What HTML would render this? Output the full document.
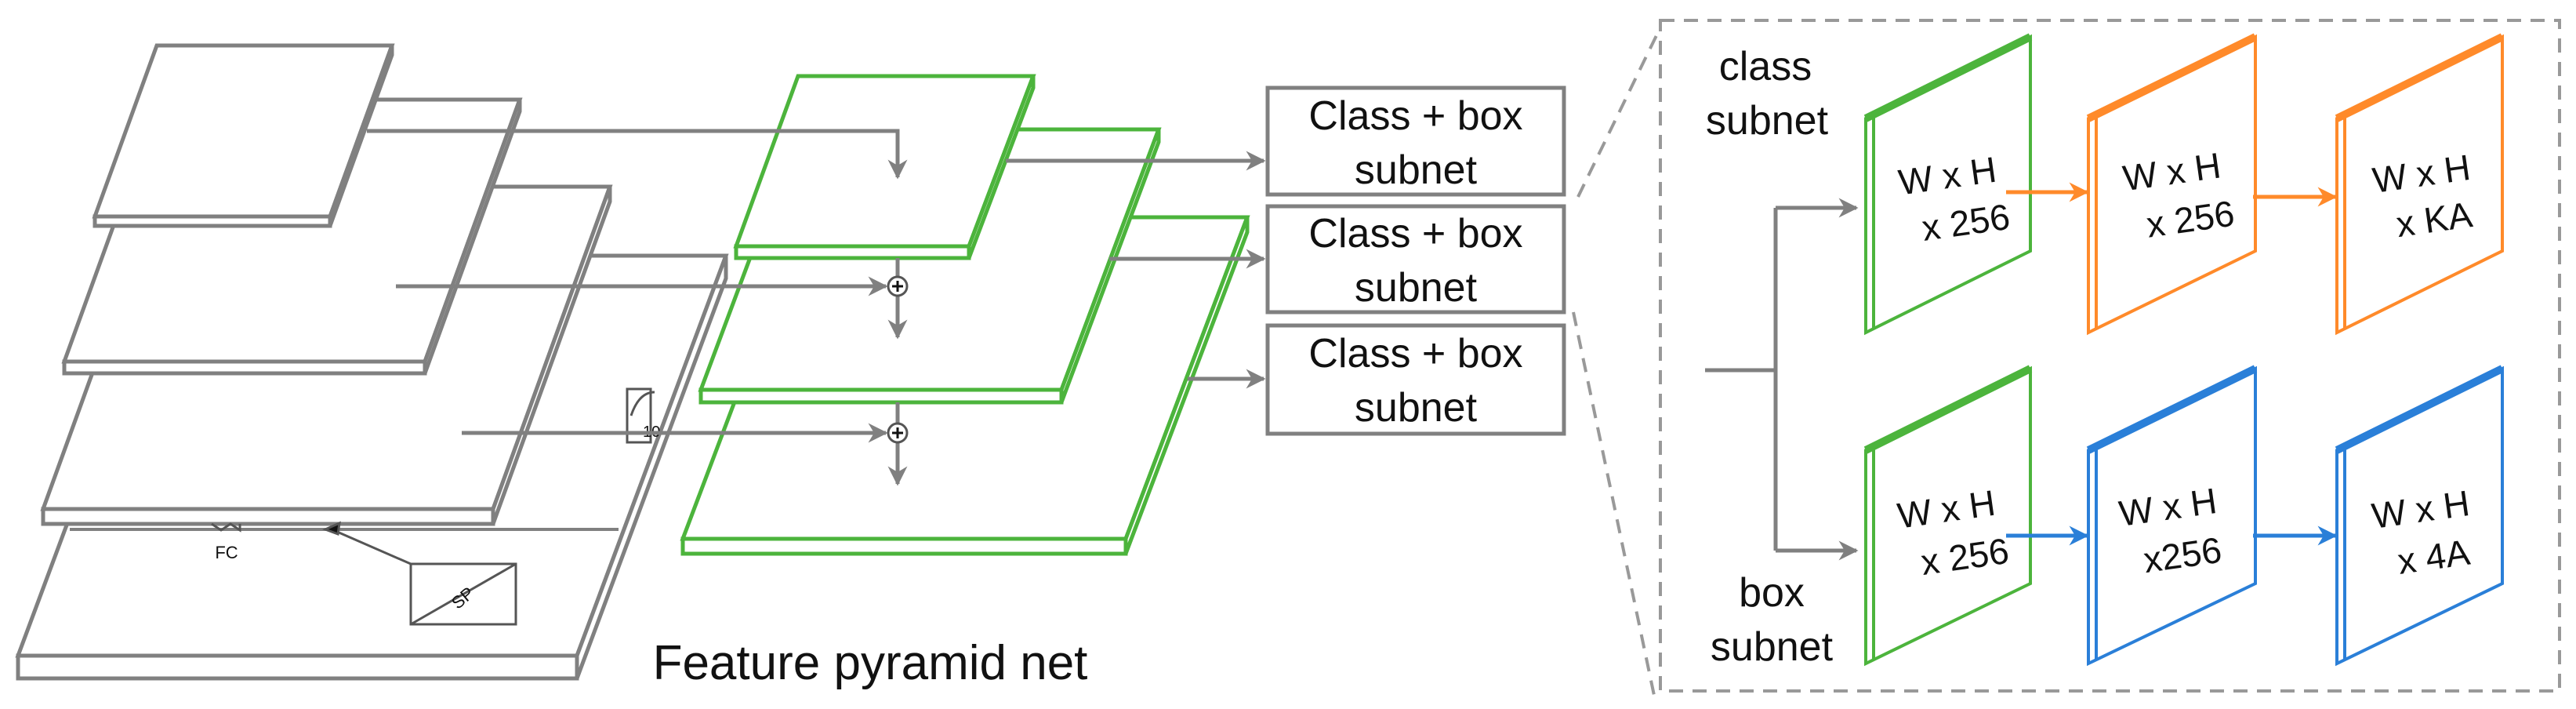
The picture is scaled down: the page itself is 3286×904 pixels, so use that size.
<!DOCTYPE html>
<html><head><meta charset="utf-8"><style>
html,body{margin:0;padding:0;background:#fff;width:3286px;height:904px;overflow:hidden}
svg{display:block}
text{font-family:"Liberation Sans",Arial,sans-serif;fill:#111}
</style></head><body>
<svg width="3286" height="904" viewBox="0 0 3286 904" xmlns="http://www.w3.org/2000/svg">
<defs>
<marker id="ag" viewBox="0 0 10 10" refX="9" refY="5" markerWidth="5" markerHeight="5" orient="auto" markerUnits="strokeWidth"><path d="M0,0 L10,5 L0,10 L3,5 z" fill="#808080"/></marker>
<marker id="ao" viewBox="0 0 10 10" refX="9" refY="5" markerWidth="5" markerHeight="5" orient="auto" markerUnits="strokeWidth"><path d="M0,0 L10,5 L0,10 L3,5 z" fill="#ff8a2a"/></marker>
<marker id="ab" viewBox="0 0 10 10" refX="9" refY="5" markerWidth="5" markerHeight="5" orient="auto" markerUnits="strokeWidth"><path d="M0,0 L10,5 L0,10 L3,5 z" fill="#2a7fd8"/></marker>
</defs>

<!-- gray layers (bottom first) -->
<g fill="#fff" stroke="#808080" stroke-width="5" stroke-linejoin="miter">
 <polygon points="213,326 926,326 736,836 23,836"/>
 <polygon points="23,836 736,836 736,865 23,865"/>
 <polygon points="926,326 736,836 736,865 926,355"/>
 <polygon points="204,238 778,238 629,649 55,649"/>
 <polygon points="55,649 629,649 629,668 55,668"/>
 <polygon points="778,238 629,649 629,668 778,257"/>
 <polygon points="203,127 663,127 542,461 82,461"/>
 <polygon points="82,461 542,461 542,476 82,476"/>
 <polygon points="663,127 542,461 542,476 663,142"/>
 <polygon points="200,58 500,58 421,276 121,276"/>
 <polygon points="121,276 421,276 421,288 121,288"/>
 <polygon points="500,58 421,276 421,288 500,70"/>
</g>
<!-- small details bottom -->
<g stroke="#555" stroke-width="3" fill="none">
 <line x1="89" y1="675" x2="789" y2="675" stroke="#808080" stroke-width="4"/>
 <rect x="524" y="719" width="134" height="77"/>
 <line x1="524" y1="796" x2="658" y2="719"/>
 <line x1="524" y1="719" x2="430" y2="678"/>
 <path d="M415,675 l18,-8 l-2,14 z" fill="#111"/>
 <path d="M270,668 l12,8 l12,-8 l12,8 l0,-8" />
 <rect x="800" y="496" width="30" height="68"/>
 <path d="M805,530 q10,-30 30,-30"/>
</g>
<text x="289" y="712" font-size="22" text-anchor="middle" fill="#444">FC</text>
<text x="590" y="770" font-size="22" text-anchor="middle" fill="#444" transform="rotate(-40 590 762)">SP</text>
<text x="820" y="557" font-size="20" fill="#444">10</text>

<!-- green layers -->
<g fill="#fff" stroke="#4cb43c" stroke-width="5">
 <polygon points="1026,277 1591,277 1436,687 871,687"/>
 <polygon points="871,687 1436,687 1436,706 871,706"/>
 <polygon points="1591,277 1436,687 1436,706 1591,296"/>
 <polygon points="1018,165 1478,165 1354,497 894,497"/>
 <polygon points="894,497 1354,497 1354,513 894,513"/>
 <polygon points="1478,165 1354,497 1354,513 1478,181"/>
 <polygon points="1018,97 1318,97 1236,314 939,314"/>
 <polygon points="939,314 1236,314 1236,329 939,329"/>
 <polygon points="1318,97 1236,314 1236,329 1318,112"/>
</g>

<!-- gray arrows -->
<g stroke="#808080" stroke-width="5" fill="none">
 <polyline points="468,167 1145,167 1145,226" marker-end="url(#ag)"/>
 <line x1="505" y1="365" x2="1130" y2="365" marker-end="url(#ag)"/>
 <line x1="1145" y1="329" x2="1145" y2="353"/>
 <line x1="1145" y1="377" x2="1145" y2="430" marker-end="url(#ag)"/>
 <line x1="589" y1="552" x2="1130" y2="552" marker-end="url(#ag)"/>
 <line x1="1145" y1="513" x2="1145" y2="540"/>
 <line x1="1145" y1="564" x2="1145" y2="617" marker-end="url(#ag)"/>
 <line x1="1283" y1="205" x2="1612" y2="205" marker-end="url(#ag)"/>
 <line x1="1415" y1="330" x2="1612" y2="330" marker-end="url(#ag)"/>
 <line x1="1515" y1="483" x2="1612" y2="483" marker-end="url(#ag)"/>
</g>
<g stroke="#555" stroke-width="3" fill="#fff">
 <ellipse cx="1145" cy="365" rx="12" ry="12"/>
 <ellipse cx="1145" cy="552" rx="12" ry="12"/>
</g>
<g stroke="#111" stroke-width="3">
 <line x1="1138" y1="365" x2="1152" y2="365"/><line x1="1145" y1="358" x2="1145" y2="372"/>
 <line x1="1138" y1="552" x2="1152" y2="552"/><line x1="1145" y1="545" x2="1145" y2="559"/>
</g>

<text x="1110" y="866" font-size="62" text-anchor="middle">Feature pyramid net</text>

<!-- subnet boxes -->
<g fill="#fff" stroke="#808080" stroke-width="5">
 <rect x="1617" y="112" width="378" height="136"/>
 <rect x="1617" y="263" width="378" height="135"/>
 <rect x="1617" y="415" width="378" height="138"/>
</g>
<g font-size="52" text-anchor="middle">
 <text x="1806" y="165">Class + box</text><text x="1806" y="234">subnet</text>
 <text x="1806" y="315">Class + box</text><text x="1806" y="384">subnet</text>
 <text x="1806" y="468">Class + box</text><text x="1806" y="537">subnet</text>
</g>

<!-- dashed region -->
<g stroke="#999" stroke-width="4" fill="none" stroke-dasharray="18,12">
 <rect x="2118" y="26" width="1147" height="855"/>
 <line x1="2013" y1="251" x2="2118" y2="35"/>
 <line x1="2007" y1="398" x2="2112" y2="896"/>
</g>
<g font-size="52" text-anchor="middle">
 <text x="2252" y="102">class</text><text x="2254" y="171">subnet</text>
 <text x="2260" y="773">box</text><text x="2260" y="842">subnet</text>
</g>
<g stroke="#808080" stroke-width="5" fill="none">
 <polyline points="2175,472 2265,472"/>
 <polyline points="2265,265 2265,702"/>
 <line x1="2265" y1="265" x2="2368" y2="265" marker-end="url(#ag)"/>
 <line x1="2265" y1="702" x2="2368" y2="702" marker-end="url(#ag)"/>
</g>

<!-- panels -->
<g fill="#fff" stroke-width="4">
 <g stroke="#4cb43c">
  <polygon points="2380,151 2590,47 2590,320 2380,424"/><line x1="2390" y1="146" x2="2390" y2="419"/><line x1="2380" y1="151" x2="2590" y2="47" stroke-width="10"/>
  <polygon points="2380,574 2590,470 2590,744 2380,846"/><line x1="2390" y1="569" x2="2390" y2="841"/><line x1="2380" y1="574" x2="2590" y2="470" stroke-width="10"/>
 </g>
 <g stroke="#ff8a2a">
  <polygon points="2664,151 2877,47 2877,320 2664,424"/><line x1="2674" y1="146" x2="2674" y2="419"/><line x1="2664" y1="151" x2="2877" y2="47" stroke-width="10"/>
  <polygon points="2981,151 3192,47 3192,320 2981,424"/><line x1="2991" y1="146" x2="2991" y2="419"/><line x1="2981" y1="151" x2="3192" y2="47" stroke-width="10"/>
 </g>
 <g stroke="#2a7fd8">
  <polygon points="2664,574 2877,470 2877,744 2664,846"/><line x1="2674" y1="569" x2="2674" y2="841"/><line x1="2664" y1="574" x2="2877" y2="470" stroke-width="10"/>
  <polygon points="2981,574 3192,470 3192,744 2981,846"/><line x1="2991" y1="569" x2="2991" y2="841"/><line x1="2981" y1="574" x2="3192" y2="470" stroke-width="10"/>
 </g>
</g>
<g stroke-width="5" fill="none">
 <line x1="2559" y1="245" x2="2662" y2="245" stroke="#ff8a2a" marker-end="url(#ao)"/>
 <line x1="2874" y1="251" x2="2979" y2="251" stroke="#ff8a2a" marker-end="url(#ao)"/>
 <line x1="2559" y1="683" x2="2662" y2="683" stroke="#2a7fd8" marker-end="url(#ab)"/>
 <line x1="2874" y1="683" x2="2979" y2="683" stroke="#2a7fd8" marker-end="url(#ab)"/>
</g>
<g font-size="46" text-anchor="middle">
 <g transform="rotate(-8 2485 230)"><text x="2485" y="240">W x H</text><text x="2500" y="302">x 256</text></g>
 <g transform="rotate(-8 2770 230)"><text x="2772" y="235">W x H</text><text x="2787" y="298">x 256</text></g>
 <g transform="rotate(-8 3085 230)"><text x="3090" y="238">W x H</text><text x="3098" y="298">x KA</text></g>
 <g transform="rotate(-8 2485 665)"><text x="2485" y="665">W x H</text><text x="2500" y="728">x 256</text></g>
 <g transform="rotate(-8 2770 665)"><text x="2768" y="662">W x H</text><text x="2778" y="725">x256</text></g>
 <g transform="rotate(-8 3085 665)"><text x="3090" y="666">W x H</text><text x="3098" y="728">x 4A</text></g>
</g>
</svg>
</body></html>
